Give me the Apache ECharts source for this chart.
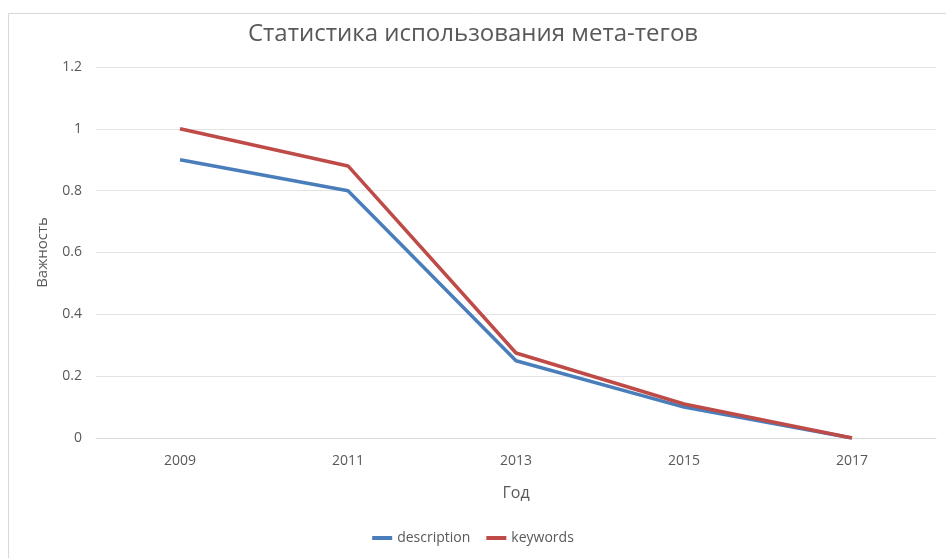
<!DOCTYPE html>
<html><head><meta charset="utf-8">
<script src="https://cdn.jsdelivr.net/npm/echarts@6/dist/echarts.min.js"></script>
<style>html,body{margin:0;padding:0;background:#fff}#c{width:946px;height:558px}</style>
</head><body><div id="c"></div>
<script>
const years = ['2009','2011','2013','2015','2017'];
const description = [0.9, 0.8, 0.25, 0.1, 0];
const keywords = [1.0, 0.88, 0.275, 0.11, 0];
const yTicks = [0, 0.2, 0.4, 0.6, 0.8, 1, 1.2];
const FONT = "'Liberation Sans Narrow', 'Open Sans', sans-serif";
const chart = echarts.init(document.getElementById('c'));
chart.setOption({
  animation: false,
  textStyle: {fontFamily: FONT},
  graphic: [{type:'rect', shape:{x:8.5,y:13.5,width:960,height:560}, style:{fill:'none', stroke:'#d9d9d9', lineWidth:1}, silent:true}],
  title: {text: 'Статистика использования мета-тегов', left: 'center', top: 17,
    textStyle: {fontFamily: FONT, fontSize: 24, fontWeight: 'normal', color: '#595959'}},
  legend: {bottom: 8, left: 'center', itemWidth: 20, itemHeight: 4, itemGap: 16, icon: 'rect',
    textStyle: {fontFamily: FONT, fontSize: 14, color: '#595959'}},
  grid: {left: 96, right: 10, top: 67, bottom: 120},
  xAxis: {type: 'category', data: years, boundaryGap: true,
    name: 'Год', nameLocation: 'middle', nameGap: 47,
    nameTextStyle: {fontFamily: FONT, fontSize: 16, color: '#595959'},
    axisLine: {show: true, lineStyle: {color: '#d9d9d9', width: 1}}, axisTick: {show: false},
    axisLabel: {fontFamily: FONT, fontSize: 14, color: '#595959', margin: 16}},
  yAxis: {type: 'value', min: 0, max: 1.2, interval: 0.2,
    name: 'Важность', nameLocation: 'middle', nameGap: 46,
    nameTextStyle: {fontFamily: FONT, fontSize: 15, color: '#595959'},
    axisLine: {show: false}, axisTick: {show: false},
    splitLine: {lineStyle: {color: '#e3e3e3', width: 1}},
    axisLabel: {fontFamily: FONT, fontSize: 14, color: '#595959', margin: 14,
      formatter: v => String(Math.round(v*10)/10)}},
  series: [
    {name: 'description', type: 'line', data: description, symbol: 'none',
      lineStyle: {width: 3.5, color: '#4a7ebb'}, itemStyle: {color: '#4a7ebb'}},
    {name: 'keywords', type: 'line', data: keywords, symbol: 'none',
      lineStyle: {width: 3.5, color: '#be4b48'}, itemStyle: {color: '#be4b48'}}
  ]
});
</script></body></html>
